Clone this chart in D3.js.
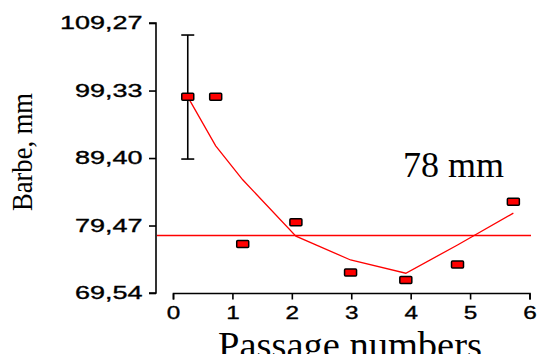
<!DOCTYPE html>
<html>
<head>
<script src="https://d3js.org/d3.v7.min.js"></script>
<style>
body { margin: 0; background: #fff; }
.tick text { font-family: "Liberation Sans", Arial, sans-serif; font-size: 18px; fill: #000; stroke: #000; stroke-width: 0.35px; }
</style>
</head>
<body>
<div id="viz"></div>
<script>
// measured points (passage number, barbe in mm)
var passX = [0.24, 0.71, 1.165, 2.06, 2.98, 3.91, 4.78, 5.72];
var barbe = [98.4, 98.4, 76.75, 79.95, 72.55, 71.45, 73.75, 82.95];
// fitted curve at the same passages
var fitY = [98.4, 91.2, 86.2, 77.9, 74.4, 72.45, 76.6, 81.3];
// error bar on first point
var errLow = 89.25, errHigh = 107.5;
var refLevel = 78;
var yTicks = [69.54, 79.47, 89.40, 99.33, 109.27];
var yTickLabels = ["69,54", "79,47", "89,40", "99,33", "109,27"];
var xTicks = [0, 1, 2, 3, 4, 5, 6];

var width = 539, height = 354;

var svg = d3.select("#viz").append("svg")
    .attr("width", width)
    .attr("height", height);

var x = d3.scaleLinear().domain([0, 6]).range([173.5, 530]);
var y = d3.scaleLinear().domain([69.54, 109.27]).range([293, 23]);

// y axis (detached from x axis)
var yAxis = svg.append("g")
    .attr("transform", "translate(156,0)")
    .call(d3.axisLeft(y).tickValues(yTicks).tickSize(7).tickPadding(2)
      .tickFormat(function(d, i) { return yTickLabels[i]; }));
yAxis.select(".domain").attr("d", "M-7," + y(109.27) + "H0V" + y(69.54) + "H-7")
    .attr("stroke-width", 1.6);
yAxis.selectAll(".tick line").attr("stroke-width", 1.6);
yAxis.selectAll(".tick text").attr("transform", "scale(1.5,1)");

// x axis
var xAxis = svg.append("g")
    .attr("transform", "translate(0,293.5)")
    .call(d3.axisBottom(x).tickValues(xTicks).tickSize(6).tickPadding(7)
      .tickFormat(d3.format("d")));
xAxis.select(".domain").attr("d", "M" + x(0) + ",6V0H" + x(6) + "V6")
    .attr("stroke-width", 1.6);
xAxis.selectAll(".tick line").attr("stroke-width", 1.6);
// widen labels, keep them centred on ticks
xAxis.selectAll(".tick").each(function(d) {
  var g = d3.select(this).attr("transform", null);
  g.select("line").attr("x1", x(d)).attr("x2", x(d));
  g.select("text").attr("x", x(d) / 1.35).attr("transform", "scale(1.35,1)");
});

// reference line at 78 mm
svg.append("line")
    .attr("x1", 157).attr("x2", 531)
    .attr("y1", y(refLevel)).attr("y2", y(refLevel))
    .attr("stroke", "#ff0000").attr("stroke-width", 1.6);

// fitted curve
var line = d3.line()
    .x(function(d, i) { return x(passX[i]); })
    .y(function(d) { return y(d); });
svg.append("path")
    .attr("d", line(fitY))
    .attr("fill", "none")
    .attr("stroke", "#ff0000")
    .attr("stroke-width", 1.3);

// error bar
var ex = x(passX[0]);
svg.append("line").attr("x1", ex).attr("x2", ex)
    .attr("y1", y(errHigh)).attr("y2", y(errLow))
    .attr("stroke", "#000").attr("stroke-width", 1.6);
[errHigh, errLow].forEach(function(v) {
  svg.append("line").attr("x1", ex - 6.5).attr("x2", ex + 6.5)
      .attr("y1", y(v)).attr("y2", y(v))
      .attr("stroke", "#000").attr("stroke-width", 1.6);
});

// points
svg.selectAll(".pt").data(barbe).enter().append("rect")
    .attr("class", "pt")
    .attr("x", function(d, i) { return x(passX[i]) - 6; })
    .attr("y", function(d) { return y(d) - 3.5; })
    .attr("width", 12).attr("height", 7)
    .attr("rx", 1)
    .attr("fill", "#ff0000")
    .attr("stroke", "#000").attr("stroke-width", 1.5);

// annotation
svg.append("text")
    .attr("x", 403).attr("y", 177)
    .style("font-family", "'Liberation Serif', 'Times New Roman', serif")
    .style("font-size", "36px")
    .text("78 mm");

// axis titles
svg.append("text")
    .attr("x", 350).attr("y", 357.5)
    .attr("text-anchor", "middle")
    .attr("textLength", 264).attr("lengthAdjust", "spacingAndGlyphs")
    .style("font-family", "'Liberation Serif', 'Times New Roman', serif")
    .style("font-size", "37px")
    .text("Passage numbers");

svg.append("text")
    .attr("transform", "translate(32,152) rotate(-90)")
    .attr("text-anchor", "middle")
    .attr("textLength", 118).attr("lengthAdjust", "spacingAndGlyphs")
    .style("font-family", "'Liberation Serif', 'Times New Roman', serif")
    .style("font-size", "30px")
    .text("Barbe, mm");
</script>
</body>
</html>
